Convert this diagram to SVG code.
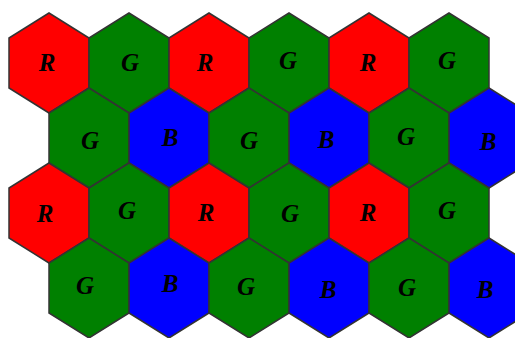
<svg xmlns="http://www.w3.org/2000/svg" width="515" height="338" viewBox="0 0 515 338">
<defs>
<style>
.hex{stroke:#333;stroke-width:1.5;stroke-linejoin:miter}
.r{fill:#ff0000}.g{fill:#008000}.b{fill:#0000ff}
text{font-family:"Liberation Serif","Times New Roman",serif;font-style:italic;font-weight:bold;font-size:25px;fill:#000;text-anchor:middle}
</style>
<polygon id="h" points="0,-50 40,-25 40,25 0,50 -40,25 -40,-25"/>
</defs>
<rect width="515" height="338" fill="#fff"/>
<g id="row1">
<g id="n11"><use href="#h" class="hex r" x="49" y="63"/><text x="47" y="71">R</text></g>
<g id="n12"><use href="#h" class="hex g" x="129" y="63"/><text x="130" y="71">G</text></g>
<g id="n13"><use href="#h" class="hex r" x="209" y="63"/><text x="205" y="71">R</text></g>
<g id="n14"><use href="#h" class="hex g" x="289" y="63"/><text x="288" y="69">G</text></g>
<g id="n15"><use href="#h" class="hex r" x="369" y="63"/><text x="368" y="71">R</text></g>
<g id="n16"><use href="#h" class="hex g" x="449" y="63"/><text x="447" y="69">G</text></g>
</g>
<g id="row2">
<g id="n21"><use href="#h" class="hex g" x="89" y="138"/><text x="90" y="149">G</text></g>
<g id="n22"><use href="#h" class="hex b" x="169" y="138"/><text x="170" y="146">B</text></g>
<g id="n23"><use href="#h" class="hex g" x="249" y="138"/><text x="249" y="149">G</text></g>
<g id="n24"><use href="#h" class="hex b" x="329" y="138"/><text x="326" y="148">B</text></g>
<g id="n25"><use href="#h" class="hex g" x="409" y="138"/><text x="406" y="145">G</text></g>
<g id="n26"><use href="#h" class="hex b" x="489" y="138"/><text x="488" y="150">B</text></g>
</g>
<g id="row3">
<g id="n31"><use href="#h" class="hex r" x="49" y="213"/><text x="45" y="222">R</text></g>
<g id="n32"><use href="#h" class="hex g" x="129" y="213"/><text x="127" y="219">G</text></g>
<g id="n33"><use href="#h" class="hex r" x="209" y="213"/><text x="206" y="221">R</text></g>
<g id="n34"><use href="#h" class="hex g" x="289" y="213"/><text x="290" y="222">G</text></g>
<g id="n35"><use href="#h" class="hex r" x="369" y="213"/><text x="368" y="221">R</text></g>
<g id="n36"><use href="#h" class="hex g" x="449" y="213"/><text x="447" y="219">G</text></g>
</g>
<g id="row4">
<g id="n41"><use href="#h" class="hex g" x="89" y="288"/><text x="85" y="294">G</text></g>
<g id="n42"><use href="#h" class="hex b" x="169" y="288"/><text x="170" y="292">B</text></g>
<g id="n43"><use href="#h" class="hex g" x="249" y="288"/><text x="246" y="295">G</text></g>
<g id="n44"><use href="#h" class="hex b" x="329" y="288"/><text x="328" y="298">B</text></g>
<g id="n45"><use href="#h" class="hex g" x="409" y="288"/><text x="407" y="296">G</text></g>
<g id="n46"><use href="#h" class="hex b" x="489" y="288"/><text x="485" y="298">B</text></g>
</g>
<g id="connectors"/>
</svg>
